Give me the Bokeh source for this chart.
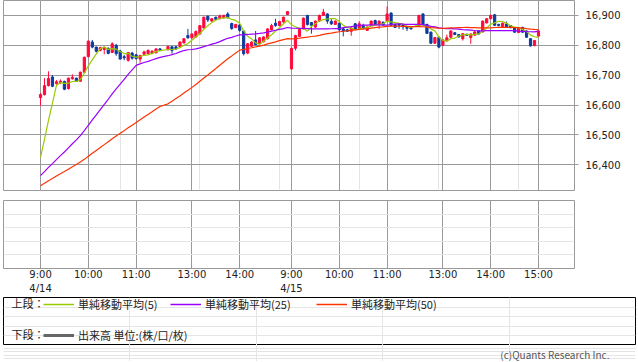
import numpy as np
from bokeh.plotting import figure
from bokeh.layouts import column
from bokeh.models import (Range1d, FixedTicker, NumeralTickFormatter, Grid,
                          Legend, LegendItem, Label, LinearAxis)
from bokeh.embed import file_html
from bokeh.resources import INLINE

FONT = "Noto Sans CJK JP"
NUMFONT = "DejaVu Sans"

# ---------------- data ----------------
dates = ["4/14", "4/15"]

# 5-minute candles, 9:00-11:30 and 12:30-15:00 for each day
d1_open = [16625, 16635, 16665, 16694, 16672, 16675, 16679, 16655, 16688, 16690, 16680, 16710, 16762, 16811, 16794, 16783,
           16786, 16790, 16776, 16800, 16781, 16762, 16750, 16774, 16768, 16754, 16770, 16772, 16773, 16775, 16788,
           16785, 16795, 16795, 16796, 16808, 16833, 16825, 16828, 16838, 16858, 16897, 16881, 16894, 16889, 16892,
           16905, 16873, 16859, 16868, 16848, 16774, 16797, 16818, 16805, 16812, 16822, 16852, 16874, 16866, 16878, 16903]
d1_high = [16640, 16690, 16713, 16700, 16684, 16686, 16682, 16692, 16703, 16692, 16712, 16762, 16816, 16818, 16796, 16795,
           16796, 16793, 16810, 16805, 16785, 16768, 16778, 16778, 16770, 16768, 16782, 16786, 16784, 16790, 16790,
           16798, 16797, 16797, 16813, 16824, 16855, 16840, 16850, 16868, 16896, 16900, 16891, 16896, 16903, 16902,
           16911, 16876, 16870, 16872, 16850, 16808, 16813, 16848, 16827, 16830, 16857, 16872, 16889, 16882, 16896, 16913]
d1_low = [16598, 16632, 16662, 16660, 16668, 16670, 16650, 16652, 16685, 16677, 16678, 16708, 16760, 16790, 16776, 16780,
          16770, 16770, 16774, 16765, 16752, 16750, 16745, 16752, 16752, 16742, 16768, 16770, 16770, 16773, 16780,
          16783, 16772, 16785, 16794, 16806, 16822, 16823, 16826, 16836, 16856, 16878, 16879, 16884, 16887, 16890,
          16890, 16852, 16858, 16846, 16766, 16770, 16795, 16800, 16803, 16810, 16820, 16850, 16862, 16864, 16876, 16903]
d1_close = [16635, 16665, 16689, 16663, 16678, 16680, 16653, 16690, 16693, 16679, 16710, 16760, 16814, 16794, 16780, 16792,
            16793, 16773, 16805, 16772, 16754, 16758, 16776, 16757, 16756, 16766, 16778, 16783, 16780, 16788, 16783,
            16796, 16783, 16788, 16811, 16822, 16825, 16838, 16846, 16866, 16894, 16885, 16889, 16887, 16898, 16900,
            16892, 16856, 16870, 16850, 16772, 16805, 16811, 16802, 16825, 16828, 16855, 16866, 16866, 16880, 16894, 16913]

d2_open = [16721, 16790, 16830, 16855, 16900, 16876, 16861, 16881, 16900, 16905, 16880, 16870, 16874, 16855, 16852, 16847,
           16872, 16857, 16866, 16850, 16866, 16883, 16870, 16877, 16881, 16908, 16870, 16872, 16868, 16862, 16858,
           16864, 16905, 16870, 16844, 16807, 16827, 16800, 16815, 16827, 16842, 16836, 16822, 16837, 16826, 16834,
           16848, 16845, 16875, 16889, 16902, 16870, 16863, 16872, 16866, 16858, 16843, 16860, 16848, 16822, 16799, 16831]
d2_high = [16792, 16835, 16855, 16893, 16902, 16878, 16883, 16903, 16922, 16907, 16890, 16883, 16876, 16858, 16855, 16860,
           16874, 16881, 16872, 16863, 16883, 16886, 16883, 16880, 16930, 16910, 16872, 16874, 16870, 16864, 16860,
           16902, 16907, 16872, 16846, 16828, 16829, 16820, 16836, 16850, 16844, 16838, 16841, 16839, 16840, 16847,
           16850, 16883, 16891, 16903, 16905, 16872, 16876, 16880, 16868, 16860, 16860, 16862, 16850, 16824, 16818, 16850]
d2_low = [16718, 16783, 16828, 16853, 16866, 16839, 16858, 16879, 16898, 16872, 16868, 16868, 16848, 16830, 16845, 16832,
          16851, 16855, 16853, 16848, 16864, 16868, 16855, 16866, 16878, 16865, 16858, 16855, 16852, 16848, 16853,
          16862, 16867, 16838, 16805, 16805, 16790, 16798, 16813, 16825, 16834, 16826, 16816, 16831, 16805, 16832,
          16836, 16843, 16873, 16887, 16865, 16864, 16861, 16859, 16857, 16842, 16841, 16842, 16825, 16796, 16797, 16829]
d2_close = [16790, 16833, 16853, 16891, 16870, 16867, 16881, 16900, 16911, 16881, 16872, 16881, 16852, 16848, 16847, 16858,
            16853, 16872, 16855, 16861, 16881, 16870, 16881, 16868, 16905, 16867, 16860, 16867, 16862, 16857, 16855,
            16900, 16869, 16840, 16807, 16826, 16794, 16818, 16825, 16848, 16836, 16828, 16839, 16833, 16838, 16845,
            16838, 16881, 16889, 16900, 16867, 16866, 16874, 16861, 16859, 16844, 16858, 16844, 16827, 16798, 16816, 16848]

# closes of the previous session (not drawn; they feed the moving averages)
prev_session_closes = [16262, 16270, 16281, 16276, 16285, 16292, 16288, 16294, 16301, 16298, 16305, 16300, 16296,
                       16302, 16308, 16303, 16298, 16306, 16311, 16304, 16300, 16307, 16312, 16309, 16305,
                       16328, 16336, 16344, 16339, 16347, 16352, 16346, 16351, 16355, 16348, 16353, 16358, 16350,
                       16346, 16352, 16357, 16351, 16346, 16353, 16357, 16362, 16370, 16375, 16381]

ma_periods = [5, 25, 50]
ma_colors = ["#99cc00", "#9900ff", "#ff3300"]
ma_labels = ["単純移動平均(5)", "単純移動平均(25)", "単純移動平均(50)"]
volume_label = "出来高 単位:(株/口/枚)"
copyright_text = "(c)Quants Research Inc."

y_ticks = [16400, 16500, 16600, 16700, 16800, 16900]
tick_times = [["9:00", "10:00", "11:00", "13:00", "14:00"],
              ["9:00", "10:00", "11:00", "13:00", "14:00", "15:00"]]

# ---------------- time axis (session slots, lunch break compressed) ----------------
def minutes(t):
    hh, mm = t.split(":")
    return int(hh) * 60 + int(mm)

def session_times():
    out = []
    for start, end in [("9:00", "11:30"), ("12:30", "15:00")]:
        m = minutes(start)
        while m <= minutes(end):
            out.append("%d:%02d" % (m // 60, m % 60))
            m += 5
    return out

DAY_SLOTS = 63

def slot_of(day, t):
    m = minutes(t)
    if m <= minutes("11:30"):
        s = (m - minutes("9:00")) // 5
    else:
        s = (m - minutes("12:30")) // 5 + 32
    return day * DAY_SLOTS + s

times = session_times()
xs, o, h, l, c = [], [], [], [], []
for day, (oo, hh, ll, cc) in enumerate([(d1_open, d1_high, d1_low, d1_close),
                                         (d2_open, d2_high, d2_low, d2_close)]):
    for k, t in enumerate(times):
        xs.append(slot_of(day, t))
        o.append(oo[k]); h.append(hh[k]); l.append(ll[k]); c.append(cc[k])
xs = np.array(xs, dtype=float)
o = np.array(o, float); h = np.array(h, float); l = np.array(l, float); c = np.array(c, float)

up = c >= o
colors = np.where(up, "#ff0a3c", "#0d3b9e")
top = np.maximum(o, c)
bot = np.minimum(o, c)

allc = np.concatenate([np.array(prev_session_closes, float), c])
npv = len(prev_session_closes)
mas = []
for n in ma_periods:
    vals = np.array([allc[npv + i - n + 1: npv + i + 1].mean() for i in range(len(c))])
    mas.append(vals)

ticks = []
time_labels = {}
for day, tl in enumerate(tick_times):
    for t in tl:
        s = slot_of(day, t)
        ticks.append(s)
        time_labels[s] = t
day_ticks = [slot_of(d, tick_times[d][0]) for d in range(len(dates))]
date_labels = {s: d for s, d in zip(day_ticks, dates)}

xr = Range1d(-9.29, 134.04)
GRID = "#999999"
TXT = "#222222"

# ---------------- upper panel ----------------
p1 = figure(frame_width=571, frame_height=190, min_border_left=3, min_border_right=64,
            min_border_top=0, min_border_bottom=4, x_range=xr, y_range=Range1d(16314, 16950),
            x_axis_location=None, y_axis_location="right", toolbar_location=None,
            output_backend="svg")
p1.outline_line_color = GRID
p1.yaxis.ticker = FixedTicker(ticks=y_ticks)
p1.yaxis.formatter = NumeralTickFormatter(format="0,0")
p1.yaxis.axis_line_color = None
p1.yaxis.major_tick_line_color = GRID
p1.yaxis.major_tick_out = 4
p1.yaxis.major_tick_in = 0
p1.yaxis.minor_tick_line_color = None
p1.yaxis.minor_tick_out = 0
p1.yaxis.major_label_standoff = 7
p1.yaxis.major_label_text_font = NUMFONT
p1.yaxis.major_label_text_font_size = "10px"
p1.yaxis.major_label_text_color = TXT
p1.ygrid.grid_line_color = GRID
p1.add_layout(Grid(dimension=0, ticker=FixedTicker(ticks=ticks), grid_line_color=GRID))

p1.segment(x0=xs, y0=l, x1=xs, y1=h, line_color=colors, line_width=1)
p1.vbar(x=xs, width=0.55, top=top, bottom=bot, fill_color=colors, line_color=colors, line_width=1)
for vals, col in zip(mas, ma_colors):
    p1.line(xs, vals, line_color=col, line_width=1.2)

# ---------------- lower panel (volume, empty) ----------------
p2 = figure(frame_width=571, frame_height=68, min_border_left=3, min_border_right=64,
            min_border_top=6, min_border_bottom=0, x_range=xr, y_range=Range1d(0, 1),
            y_axis_location=None, toolbar_location=None, output_backend="svg")
p2.outline_line_color = GRID
ax1 = p2.xaxis[0]
ax1.ticker = FixedTicker(ticks=ticks)
ax1.major_label_overrides = time_labels
ax2 = LinearAxis(ticker=FixedTicker(ticks=day_ticks), major_label_overrides=date_labels)
p2.add_layout(ax2, "below")
for ax in (ax1, ax2):
    ax.axis_line_color = None
    ax.major_tick_line_color = None
    ax.minor_tick_line_color = None
    ax.major_tick_out = 0
    ax.major_tick_in = 0
    ax.minor_tick_out = 0
    ax.minor_tick_in = 0
    ax.major_label_standoff = 0
    ax.major_label_text_font = NUMFONT
    ax.major_label_text_font_size = "10px"
    ax.major_label_text_color = TXT
p2.xgrid.grid_line_color = GRID
p2.xgrid.ticker = FixedTicker(ticks=ticks)

# ---------------- legend box ----------------
p3 = figure(frame_width=632, frame_height=48, min_border_left=3, min_border_right=3,
            min_border_top=1, min_border_bottom=0, x_range=Range1d(0, 1), y_range=Range1d(0, 1),
            x_axis_location=None, y_axis_location=None, toolbar_location=None,
            output_backend="svg")
p3.outline_line_color = "black"
p3.outline_line_width = 1

def mk_legend(label, renderer, x, y):
    lg = Legend(items=[LegendItem(label=label, renderers=[renderer])], location=(x, y),
                orientation="horizontal", border_line_color=None, background_fill_alpha=0,
                padding=0, margin=0, spacing=0, glyph_width=31, glyph_height=16,
                label_height=16, label_standoff=4, label_text_font=FONT,
                label_text_font_size="11px", label_text_color=TXT)
    p3.add_layout(lg)

# legend-only sample lines (kept outside the visible range of this box)
leg_x = [40, 167, 313]
for lab, col, lx in zip(ma_labels, ma_colors, leg_x):
    r = p3.line([0, 1], [5, 5], line_color=col, line_width=1.5)
    mk_legend(lab, r, lx, 33)
rv = p3.line([0, 1], [5, 5], line_color="#666666", line_width=3)
mk_legend(volume_label, rv, 40, 2)

for txt, yy in [("上段：", 42.5), ("下段：", 11.5)]:
    p3.add_layout(Label(x=8, y=yy, x_units="screen", y_units="screen", text=txt,
                        text_font=FONT, text_font_size="11px", text_color=TXT,
                        text_baseline="middle"))

# ---------------- copyright strip ----------------
p4 = figure(frame_width=632, frame_height=16, min_border_left=3, min_border_right=3,
            min_border_top=0, min_border_bottom=0, x_range=Range1d(0, 1), y_range=Range1d(0, 1),
            x_axis_location=None, y_axis_location=None, toolbar_location=None,
            output_backend="svg")
p4.outline_line_color = None
p4.add_layout(Label(x=606, y=7, x_units="screen", y_units="screen", text=copyright_text,
                    text_font=FONT, text_font_size="10px", text_color="#555555",
                    text_align="right", text_baseline="middle"))

layout = column(p1, p2, p3, p4, spacing=0)
open("out.html", "w").write(file_html(layout, INLINE))
